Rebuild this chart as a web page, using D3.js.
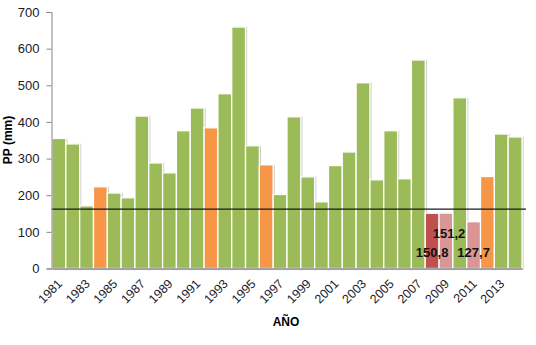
<!DOCTYPE html>
<html><head><meta charset="utf-8">
<script src="https://cdn.jsdelivr.net/npm/d3@7"></script>
<style>body{margin:0;background:#fff}svg{display:block}</style>
</head><body>
<svg id="c" width="536" height="345"></svg>
<script>
const years = d3.range(1981, 2015).map(String);
const values = [355,340,171,223,206,193,416,288,261,376,438,384,477,659,335,283,202,414,250,182,281,318,507,242,376,245,569,150.8,151.2,466,127.7,251,367,359];
const colorKeys = ["g","g","g","o","g","g","g","g","g","g","g","o","g","g","g","o","g","g","g","g","g","g","g","g","g","g","g","r","p","g","p","o","g","g"];
const palette = {g:"#9BBB59", o:"#F79646", r:"#C0504D", p:"#D99694"};
const refLine = 162;
const labeled = [{year:"2008", text:"150,8", row:1},{year:"2009", text:"151,2", row:0},{year:"2011", text:"127,7", row:1}];
const yTicks = [0,100,200,300,400,500,600,700];
const xTickLabels = years.filter((d,i)=>i%2===0);

(function(){
const svg = d3.select("#c");
const mLeft = 51.5, mRight = 522, mTop = 12, mBottom = 268.5;
const x = d3.scaleBand().domain(years).range([mLeft+0.5, mRight]).padding(0);
const y = d3.scaleLinear().domain([0,700]).range([mBottom, mTop]);

const defs = svg.append("defs");
const f = defs.append("filter").attr("id","sh").attr("x","-20%").attr("y","-5%").attr("width","140%").attr("height","110%");
f.append("feDropShadow").attr("dx",1).attr("dy",0.5).attr("stdDeviation",0.6).attr("flood-color","#999").attr("flood-opacity",0.5);

svg.append("g").selectAll("rect").data(years).join("rect")
  .attr("x", d=>x(d)).attr("y", (d,i)=>y(values[i]))
  .attr("width", x.bandwidth()).attr("height",(d,i)=>y(0)-y(values[i]))
  .attr("fill",(d,i)=>palette[colorKeys[i]])
  .attr("stroke","#fff").attr("stroke-width",1.3)
  .attr("filter","url(#sh)");

svg.append("line").attr("x1", mLeft).attr("x2", 526)
  .attr("y1", y(refLine)).attr("y2", y(refLine))
  .attr("stroke","#1a1a1a").attr("stroke-width",1.2);

const ya = svg.append("g").attr("transform",`translate(${mLeft},0)`)
  .call(d3.axisLeft(y).tickValues(yTicks).tickSize(5).tickPadding(7).tickFormat(d3.format("d")));
ya.select(".domain").attr("stroke","#868686");
ya.selectAll(".tick line").attr("stroke","#868686");
ya.selectAll("text").attr("font-family","Liberation Sans, Arial, sans-serif").attr("font-size",13).attr("fill","#1a1a2a");

const xa = svg.append("g").attr("transform",`translate(0,${mBottom})`)
  .call(d3.axisBottom(x).tickValues(xTickLabels).tickSize(0).tickPadding(0));
xa.select(".domain").attr("stroke","#868686").attr("stroke-width",1.5);
xa.selectAll("text").attr("font-family","Liberation Sans, Arial, sans-serif").attr("font-size",12.5).attr("fill","#1a1a2a")
  .attr("text-anchor","end").attr("dy",0).attr("transform","translate(4,16) rotate(-45)");

svg.append("g").selectAll("text").data(labeled).join("text")
  .attr("x", d=>x(d.year)+x.bandwidth()/2 + (d.row===0?3:0))
  .attr("y", d=> d.row===0 ? 238 : 257)
  .attr("text-anchor","middle")
  .attr("font-family","Liberation Sans, Arial, sans-serif").attr("font-weight","bold").attr("font-size",13)
  .attr("fill","#111").text(d=>d.text);

svg.append("text").attr("transform","translate(12,140) rotate(-90)").attr("text-anchor","middle")
  .attr("font-family","Liberation Sans, Arial, sans-serif").attr("font-weight","bold").attr("font-size",12)
  .attr("fill","#000").text("PP (mm)");
svg.append("text").attr("x",286).attr("y",326).attr("text-anchor","middle")
  .attr("font-family","Liberation Sans, Arial, sans-serif").attr("font-weight","bold").attr("font-size",12)
  .attr("fill","#000").text("AÑO");
})();
</script>
</body></html>
